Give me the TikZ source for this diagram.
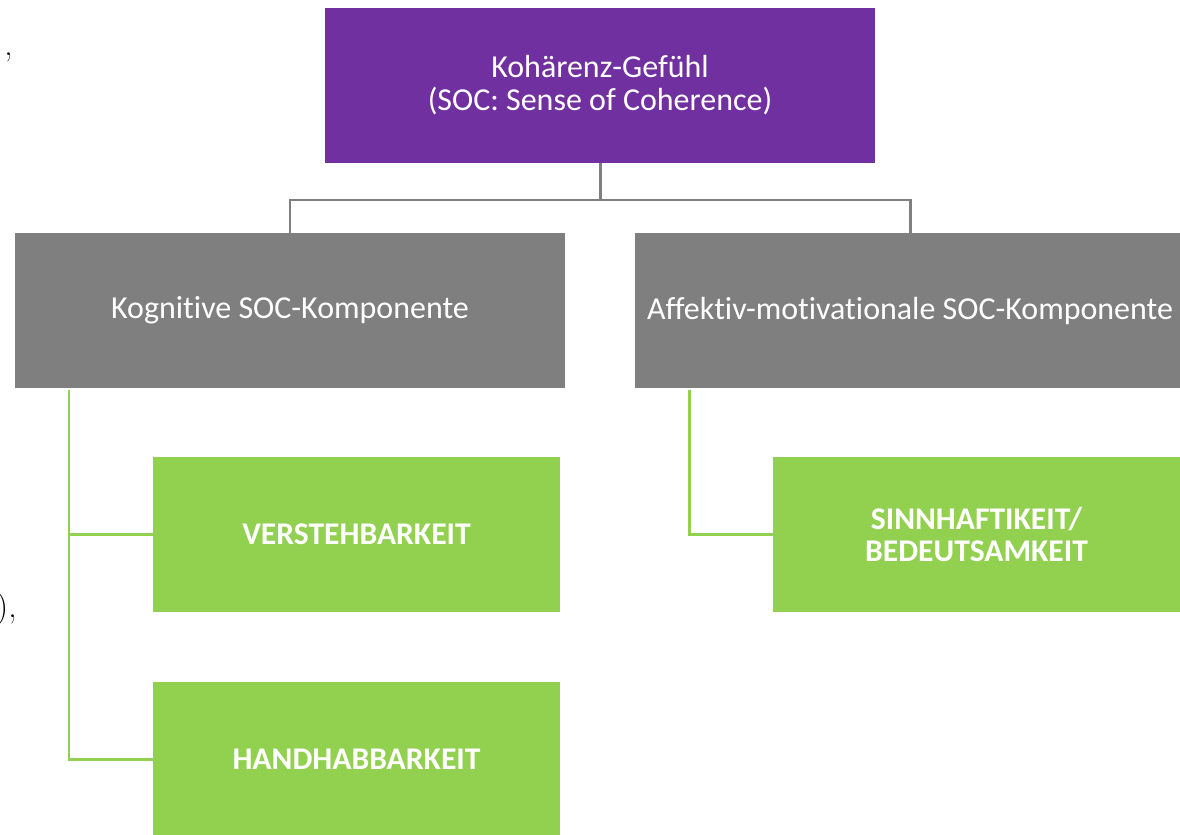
\documentclass[tikz,border=0pt]{standalone}
\usepackage{fontspec}
\setmainfont[Ligatures=NoCommon]{Carlito}
\newfontfamily\lmfont{Latin Modern Roman}
\usepackage{tikz}

\definecolor{socpurple}{HTML}{7030A0}
\definecolor{socgray}{HTML}{7F7F7F}
\definecolor{socgreen}{HTML}{92D050}

\begin{document}
\begin{tikzpicture}[x=0.02cm, y=-0.02cm,
	every node/.style={font=\fontsize{18.2}{18.7}\selectfont, text=white, align=center},
	topbox/.style={fill=socpurple, minimum width=11cm, minimum height=3.1cm},
	compbox/.style={fill=socgray, minimum width=11cm, minimum height=3.1cm},
	facbox/.style={fill=socgreen, minimum width=8.14cm, minimum height=3.1cm, font=\fontsize{18}{18.7}\selectfont\bfseries},
	conn/.style={draw=socgray, line width=1.7pt},
	gline/.style={draw=socgreen, line width=1.7pt}]
	\useasboundingbox (0,0) rectangle (1180,835);
	% Kopf
	\node[topbox] (soc) at (600,85.5) {Kohärenz-Gefühl\\(SOC: Sense of Coherence)};
	% Komponenten
	\node[compbox] (kog) at (290,310.5) {Kognitive SOC-Komponente};
	\node[compbox] (aff) at (910,310.5) {Affektiv-motivationale SOC-Komponente};
	% Faktoren
	\node[facbox] (verst) at (356.5,534.5) {VERSTEHBARKEIT};
	\node[facbox] (hand) at (356.5,759.5) {HANDHABBARKEIT};
	\node[facbox] (sinn) at (976.5,534.5) {SINNHAFTIKEIT/\\BEDEUTSAMKEIT};
	% Verbindungen
	\coordinate (mid) at (600,200);
	\draw[conn] (soc.south) -- (mid) -| (kog.north);
	\draw[conn] (mid) -| (aff.north);
	\coordinate (kt) at (69,390);
	\coordinate (at) at (689,390);
	\draw[gline] (kt) |- (verst.west);
	\draw[gline] (kt) |- (hand.west);
	\draw[gline] (at) |- (sinn.west);
	% Textreste am Rand
	\node[text=black, font=\lmfont\fontsize{19}{20}\selectfont, anchor=east, inner sep=0pt] (f1) at (13,57) {,};
	\node[text=black, font=\lmfont\fontsize{19}{20}\selectfont, anchor=east, inner sep=0pt] (f3) at (17,609) {),};
\end{tikzpicture}
\end{document}
